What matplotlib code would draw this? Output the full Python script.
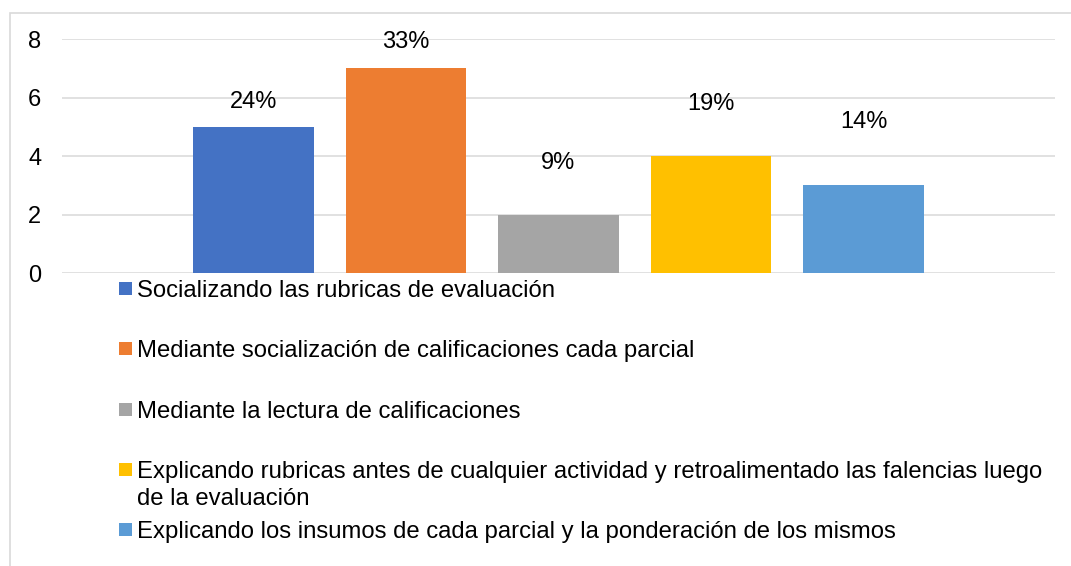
import numpy as np
import matplotlib
matplotlib.use('Agg')
import matplotlib.pyplot as plt
from matplotlib.patches import Rectangle

plt.rcParams['font.family'] = ['Liberation Sans', 'DejaVu Sans']

# datos
categorias = ['Socializando las rubricas de evaluación',
              'Mediante socialización de calificaciones cada parcial',
              'Mediante la lectura de calificaciones',
              'Explicando rubricas antes de cualquier actividad y retroalimentado las falencias luego\nde la evaluación',
              'Explicando los insumos de cada parcial y la ponderación de los mismos']
valores = [5, 7, 2, 4, 3]
porcentajes = ['24%', '33%', '9%', '19%', '14%']
y_ticks = [0, 2, 4, 6, 8]

colores = ['#4472C4', '#ED7D31', '#A5A5A5', '#FFC000', '#5B9BD5']
# desplazamiento vertical de cada etiqueta sobre la barra (puntos)
label_offsets = [17.6, 18.7, 37.4, 37.4, 45.4]

W, H = 1071, 566
fig = plt.figure(figsize=(W / 100, H / 100), dpi=100)
ax = fig.add_axes([62 / W, 1 - 273.3 / H, (1055 - 62) / W, (273.3 - 39) / H])

x = np.arange(len(valores))
bars = ax.bar(x, valores, width=0.793, color=colores, zorder=3)
for b, txt, off in zip(bars, porcentajes, label_offsets):
    ax.annotate(txt, (b.get_x() + b.get_width() / 2, b.get_height()),
                xytext=(0, off), textcoords='offset points',
                ha='center', va='center', fontsize=17)

ax.set_xlim(-1.256, 5.256)
ax.set_ylim(0, 8)
ax.set_yticks(y_ticks)
ax.set_xticks([])
ax.tick_params(axis='y', length=0, pad=15, labelsize=17)
ax.grid(axis='y', color='#d9d9d9', lw=1.1)
ax.set_axisbelow(True)
for s in ax.spines.values():
    s.set_visible(False)

# leyenda dibujada a mano (entradas a paso fijo, como en Excel)
base0 = 297
step = 60.25
for i, (lab, c) in enumerate(zip(categorias, colores)):
    base = base0 + step * i
    fig.add_artist(Rectangle((119 / W, 1 - (base - 2) / H), 13 / W, 13 / H,
                             transform=fig.transFigure, color=c, lw=0))
    fig.text(137 / W, 1 - (base - 17) / H, lab, ha='left', va='top',
             fontsize=17.2, linespacing=1.3)

# borde del área del gráfico
fig.add_artist(Rectangle((10 / W, -0.5), 2, 1 - 12.5 / H + 0.5,
                         transform=fig.transFigure, fill=False,
                         ec='#d9d9d9', lw=1.2))

fig.savefig('out.png', dpi=100)
